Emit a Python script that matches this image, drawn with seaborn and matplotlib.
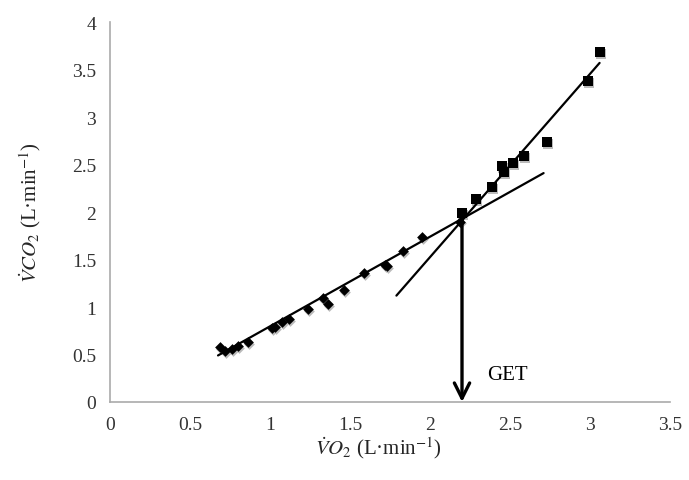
import matplotlib
matplotlib.use("Agg")
import matplotlib.pyplot as plt
import seaborn as sns
import pandas as pd

# Data
below_vo2 = [0.69, 0.72, 0.76, 0.80, 0.86, 1.01, 1.03, 1.075, 1.12, 1.24,
             1.33, 1.36, 1.46, 1.59, 1.72, 1.73, 1.83, 1.95, 2.19]
below_vco2 = [0.575, 0.535, 0.555, 0.585, 0.63, 0.78, 0.79, 0.84, 0.87, 0.975,
              1.09, 1.03, 1.175, 1.36, 1.44, 1.43, 1.585, 1.74, 1.90]
above_vo2 = [2.20, 2.29, 2.39, 2.45, 2.46, 2.52, 2.59, 2.73, 2.99, 3.06]
above_vco2 = [1.99, 2.14, 2.26, 2.48, 2.42, 2.52, 2.59, 2.74, 3.38, 3.68]

# Regression line segments (endpoints) as drawn in the reference
fit1_vo2 = [0.675, 2.71]
fit1_vco2 = [0.49, 2.41]
fit2_vo2 = [1.79, 3.06]
fit2_vco2 = [1.12, 3.57]

get_vo2 = 2.2
get_vco2 = 1.93
get_label = "GET"

x_ticks = [0, 0.5, 1, 1.5, 2, 2.5, 3, 3.5]
y_ticks = [0, 0.5, 1, 1.5, 2, 2.5, 3, 3.5, 4]
x_ticklabels = ["0", "0.5", "1", "1.5", "2", "2.5", "3", "3.5"]
y_ticklabels = ["0", "0.5", "1", "1.5", "2", "2.5", "3", "3.5", "4"]

sns.set_style("white")
plt.rcParams["font.family"] = ["Liberation Serif", "DejaVu Serif"]
plt.rcParams["mathtext.fontset"] = "stix"

df_below = pd.DataFrame({"vo2": below_vo2, "vco2": below_vco2})
df_above = pd.DataFrame({"vo2": above_vo2, "vco2": above_vco2})
df_f1 = pd.DataFrame({"vo2": fit1_vo2, "vco2": fit1_vco2})
df_f2 = pd.DataFrame({"vo2": fit2_vo2, "vco2": fit2_vco2})

fig = plt.figure(figsize=(6.89, 4.81), dpi=100)
ax = fig.add_axes([0.1597, 0.1622, 0.8127, 0.7898])

# soft shadow
ax.scatter([v + 0.006 for v in below_vo2], [v - 0.02 for v in below_vco2],
           marker="D", s=30, color="#bbbbbb", linewidths=0, zorder=1)
ax.scatter([v + 0.006 for v in above_vo2], [v - 0.02 for v in above_vco2],
           marker="s", s=55, color="#bbbbbb", linewidths=0, zorder=1)

sns.lineplot(data=df_f1, x="vo2", y="vco2", ax=ax, color="black", lw=1.6, zorder=3)
sns.lineplot(data=df_f2, x="vo2", y="vco2", ax=ax, color="black", lw=1.6, zorder=3)
sns.scatterplot(data=df_below, x="vo2", y="vco2", ax=ax, marker="D", s=30,
                color="black", edgecolor="black", linewidth=0, zorder=4)
sns.scatterplot(data=df_above, x="vo2", y="vco2", ax=ax, marker="s", s=55,
                color="black", edgecolor="black", linewidth=0, zorder=4)

ax.annotate("", xy=(get_vo2, 0.0), xytext=(get_vo2, get_vco2),
            arrowprops=dict(arrowstyle="->,head_length=1.1,head_width=0.55",
                            color="black", lw=2.4, shrinkA=0, shrinkB=0),
            zorder=5)
ax.text(2.36, 0.29, get_label, fontsize=15, color="black", ha="left", va="center")

ax.set_xlim(0, 3.5)
ax.set_ylim(0, 4)
ax.set_xticks(x_ticks)
ax.set_xticklabels(x_ticklabels)
ax.set_yticks(y_ticks)
ax.set_yticklabels(y_ticklabels)
ax.tick_params(axis="both", labelsize=14, colors="#333333", length=4, width=1,
               direction="out", pad=6)
ax.tick_params(axis="both", color="#999999")
for s in ["top", "right"]:
    ax.spines[s].set_visible(False)
for s in ["left", "bottom"]:
    ax.spines[s].set_color("#aaaaaa")
    ax.spines[s].set_linewidth(1.2)

ax.set_xlabel(r"$\dot{V}O_2$ (L·min$^{-1}$)", fontsize=15, labelpad=2)
ax.xaxis.set_label_coords(0.48, -0.085)
ax.set_ylabel(r"$\dot{V}CO_2$ (L·min$^{-1}$)", fontsize=15)
ax.yaxis.set_label_coords(-0.12, 0.5)

fig.savefig("out.png", dpi=100)
